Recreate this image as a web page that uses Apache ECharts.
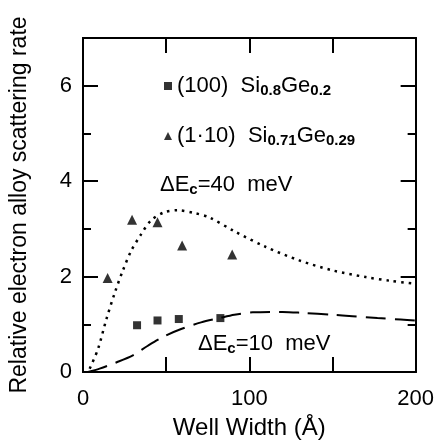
<!DOCTYPE html>
<html><head><meta charset="utf-8">
<script src="https://cdn.jsdelivr.net/npm/echarts@6/dist/echarts.min.js"></script>
<style>html,body{margin:0;padding:0;background:#fff}#c{width:437px;height:445px}</style>
</head><body><div id="c"></div>
<script>
// Data
const xTicks = [0, 100, 200];
const yTicks = [0, 2, 4, 6];
const sq100 = [[32.5, 0.98], [44.8, 1.08], [57.6, 1.11], [82.6, 1.13]];
const tri110 = [[14.8, 1.97], [29.5, 3.19], [44.8, 3.14], [59.6, 2.65], [89.7, 2.46]];
const dotted40 = [[4, 0.07], [9, 0.48], [14, 1.10], [19, 1.65], [24, 2.13], [29, 2.54], [35, 2.89], [41, 3.18], [49, 3.35], [57, 3.39], [67, 3.33], [76, 3.24], [91, 2.95], [110, 2.62], [130, 2.34], [150, 2.13], [170, 1.99], [185, 1.91], [200, 1.85]];
const dashed10 = [[3, 0], [10, 0.07], [20, 0.2], [30, 0.35], [39, 0.55], [49, 0.75], [59, 0.9], [71, 1.04], [82, 1.13], [91, 1.2], [102, 1.25], [120, 1.26], [132, 1.24], [150, 1.2], [162, 1.17], [177, 1.13], [191, 1.1], [200, 1.08]];

const FONT = 'Liberation Sans, Arial, sans-serif';
const chart = echarts.init(document.getElementById('c'), null, {renderer: 'canvas'});
const yBase = (pos, interval, len, showLabel) => ({
  type: 'value', position: pos, min: 0, max: 7, interval: interval,
  axisLine: {show: true, onZero: false, lineStyle: {color: '#000', width: 2}},
  axisTick: {show: true, inside: true, length: len, lineStyle: {color: '#000', width: 2}},
  splitLine: {show: false},
  axisLabel: {show: showLabel, color: '#000', fontFamily: FONT, fontSize: 22, margin: 11,
    formatter: v => yTicks.includes(v) ? String(v) : ''}
});
const xBase = (pos, showLabel) => ({
  type: 'value', position: pos, min: 0, max: 200, interval: 50,
  axisLine: {show: true, onZero: false, lineStyle: {color: '#000', width: 2}},
  axisTick: {show: true, inside: true, length: 15, lineStyle: {color: '#000', width: 2}},
  splitLine: {show: false},
  axisLabel: {show: showLabel, color: '#000', fontFamily: FONT, fontSize: 22, margin: 16,
    formatter: v => xTicks.includes(v) ? String(v) : ''}
});
const y0 = yBase('left', 2, 15, true);
y0.name = 'Relative electron alloy scattering rate';
y0.nameLocation = 'middle';
y0.nameGap = 52;
y0.nameTextStyle = {color: '#000', fontFamily: FONT, fontSize: 23};
const x0 = xBase('bottom', true);
x0.name = 'Well Width (Å)';
x0.nameLocation = 'middle';
x0.nameGap = 44;
x0.nameTextStyle = {color: '#000', fontFamily: FONT, fontSize: 24};

const richStyles = {
  n: {fontFamily: FONT, fontSize: 22, color: '#000', lineHeight: 24},
  s: {fontFamily: FONT, fontSize: 15, color: '#000', lineHeight: 15, verticalAlign: 'bottom', fontWeight: 'bold'}
};

chart.setOption({
  animation: false,
  backgroundColor: '#fff',
  grid: {left: 80, right: 19, top: 38, bottom: 65},
  xAxis: [x0, xBase('top', false)],
  yAxis: [y0, yBase('left', 1, 8, false), yBase('right', 2, 15, false), yBase('right', 1, 8, false)],
  legend: {
    left: 159, top: 70, orient: 'vertical', itemGap: 27, itemWidth: 8, itemHeight: 8,
    data: [{name: 'sq', icon: 'rect'}, {name: 'tri', icon: 'triangle'}],
    formatter: name => name === 'sq'
      ? '{n|(100)  Si}{s|0.8}{n|Ge}{s|0.2}'
      : '{n|(1·10)  Si}{s|0.71}{n|Ge}{s|0.29}',
    textStyle: {rich: richStyles}
  },
  graphic: [
    {type: 'text', left: 160, top: 174, style: {text: '{n|ΔE}{s|c}{n|=40  meV}', rich: richStyles}},
    {type: 'text', left: 198, top: 333, style: {text: '{n|ΔE}{s|c}{n|=10  meV}', rich: richStyles}}
  ],
  series: [
    {name: 'dot40', type: 'line', data: dotted40, smooth: 0.3, showSymbol: false,
      lineStyle: {color: '#000', width: 2.5, type: [2.5, 5]}},
    {name: 'dash10', type: 'line', data: dashed10, smooth: 0.3, showSymbol: false,
      lineStyle: {color: '#000', width: 2, type: [20, 9]}},
    {name: 'sq', type: 'scatter', data: sq100, symbol: 'rect', symbolSize: 8, itemStyle: {color: '#000'}},
    {name: 'tri', type: 'scatter', data: tri110, symbol: 'triangle', symbolSize: 10, itemStyle: {color: '#000'}}
  ]
});
</script></body></html>
